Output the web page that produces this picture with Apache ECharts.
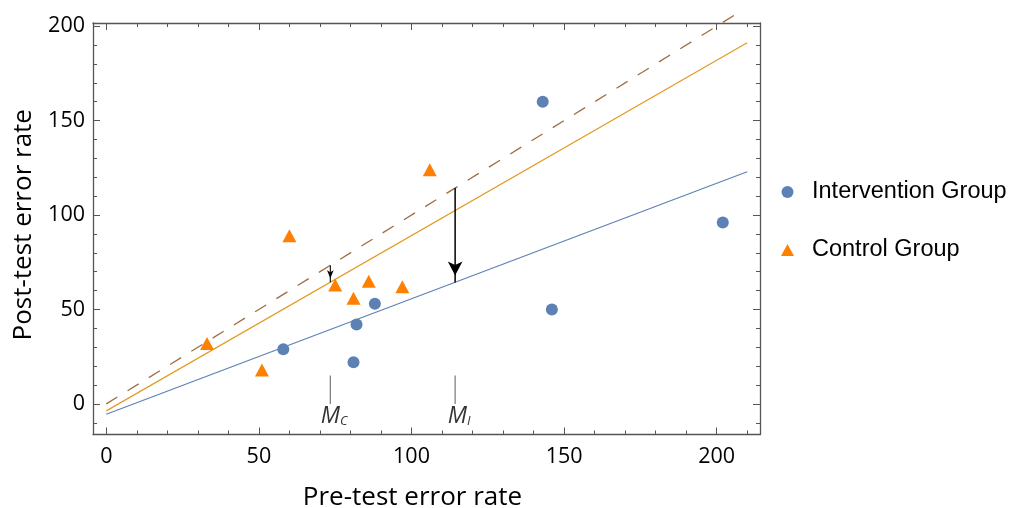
<!DOCTYPE html>
<html>
<head>
<meta charset="utf-8">
<script src="https://cdn.jsdelivr.net/npm/echarts@6/dist/echarts.min.js"></script>
<style>html,body{margin:0;padding:0;background:#fff}#c{width:1009px;height:508px}</style>
</head>
<body>
<div id="c"></div>
<script>
// ---- data ----
const interventionPts = [[58,29],[82,42],[88,53],[81,22],[143,160],[146,50],[202,96]];
const controlPts = [[33,32],[51,18],[60,89],[75,63],[81,56],[86,65],[97,62],[106,124]];
const identityLine = [[0,0],[206.5,206.5]];
const controlFit = [[0,-3.7],[210,191.2]];
const interventionFit = [[0,-5.5],[210,122.9]];
const meanC = 73.4, meanI = 114.3;
const arrowC = [[meanC,73.4],[meanC,64.4]];
const arrowI = [[meanI,114.3],[meanI,64.3]];
const markerLineC = [[meanC,0],[meanC,15]];
const markerLineI = [[meanI,0],[meanI,15]];
const xRange = [-4.36, 214.2];
const yRange = [-16.2, 201.7];
const xTitle = 'Pre-test error rate';
const yTitle = 'Post-test error rate';
const seriesNames = ['Intervention Group','Control Group'];

const chart = echarts.init(document.getElementById('c'));
const frameColor = '#555';
const tickFont = {fontFamily:'Open Sans', fontSize:21.5, color:'#000'};
const titleFont = {fontFamily:'Open Sans', fontSize:26, color:'#000'};

function xAx(pos, major){
  return {
    type:'value', position:pos, min:xRange[0], max:xRange[1],
    splitNumber: major?4:22,
    axisLine:{show:major, onZero:false, lineStyle:{color:frameColor,width:1.3}},
    axisTick:{show:true, inside:true, length:major?7:4, lineStyle:{color:frameColor,width:1}},
    axisLabel:{show:major && pos==='bottom', showMinLabel:false, showMaxLabel:false, margin:11, ...tickFont},
    splitLine:{show:false},
    name: (major && pos==='bottom') ? xTitle : '',
    nameLocation:'middle', nameGap:50,
    nameTextStyle:{...titleFont, padding:[0,28,0,0]}
  };
}
function yAx(pos, major){
  return {
    type:'value', position:pos, min:yRange[0], max:yRange[1],
    splitNumber: major?4:22,
    axisLine:{show:major, onZero:false, lineStyle:{color:frameColor,width:1.3}},
    axisTick:{show:true, inside:true, length:major?7:4, lineStyle:{color:frameColor,width:1}},
    axisLabel:{show:major && pos==='left', showMinLabel:false, showMaxLabel:false, margin:8, ...tickFont},
    splitLine:{show:false},
    name: (major && pos==='left') ? yTitle : '',
    nameLocation:'middle', nameGap:56, nameRotate:90,
    nameTextStyle:{...titleFont, padding:[0,0,0,8]}
  };
}

function arrowSeries(pts, headW, headH, lw){
  return {
    type:'line', xAxisIndex:0, yAxisIndex:0, silent:true, clip:false,
    lineStyle:{color:'#000', width:lw},
    data:[
      {value:pts[0], symbol:'none'},
      {value:pts[1], symbol:'arrow', symbolSize:[headW,headH], symbolRotate:180, symbolOffset:[0,-headH/2],
       itemStyle:{color:'#000'}}
    ],
    z:5
  };
}
function markerSeries(pts, sub){
  return [{
    type:'line', xAxisIndex:0, yAxisIndex:0, silent:true, symbol:'none',
    lineStyle:{color:'#777', width:1.2}, data:pts
  },{
    type:'scatter', xAxisIndex:0, yAxisIndex:0, silent:true, symbol:'rect', symbolSize:1,
    itemStyle:{color:'rgba(0,0,0,0)'},
    data:[[pts[0][0], -6.7]],
    label:{show:true, position:'inside', offset:[4,0],
      formatter:'{m|M}{s|'+sub+'}',
      rich:{
        m:{fontFamily:'Open Sans', fontStyle:'italic', fontSize:23, color:'#000'},
        s:{fontFamily:'Open Sans', fontStyle:'italic', fontSize:13, color:'#000', padding:[10,0,0,0]}
      }},
    z:6
  }];
}

const option = {
  backgroundColor:'#fff',
  animation:false,
  grid:{left:93, right:249, top:23, bottom:73.5, containLabel:false, outerBoundsMode:'none'},
  xAxis:[xAx('bottom',true), xAx('bottom',false), xAx('top',true), xAx('top',false)],
  yAxis:[yAx('left',true), yAx('left',false), yAx('right',true), yAx('right',false)],
  legend:{
    orient:'vertical', left:776, top:175, itemGap:34,
    itemWidth:13, itemHeight:12,
    data:seriesNames,
    textStyle:{fontFamily:'Liberation Sans', fontSize:23.5, color:'#000', lineHeight:24, padding:[0,0,0,13]}
  },
  series:[
    {type:'line', silent:true, symbol:'none', clip:false, data:identityLine,
      lineStyle:{color:'#9C6E44', width:1.3, type:[13,12]}},
    {type:'line', silent:true, symbol:'none', data:controlFit,
      lineStyle:{color:'#E19C24', width:1.2}},
    {type:'line', silent:true, symbol:'none', data:interventionFit,
      lineStyle:{color:'#5E81B5', width:1.2}},
    arrowSeries(arrowC, 5, 8, 1.1),
    arrowSeries(arrowI, 11, 14, 1.5),
    ...markerSeries(markerLineC,'C'),
    ...markerSeries(markerLineI,'I'),
    {name:seriesNames[0], type:'scatter', symbol:'circle', symbolSize:12, data:interventionPts,
      itemStyle:{color:'#5E81B5', opacity:1}, z:10},
    {name:seriesNames[1], type:'scatter', symbol:'triangle', symbolSize:[14,13], data:controlPts,
      itemStyle:{color:'#FF8000', opacity:1}, z:10}
  ]
};
chart.setOption(option);
</script>
</body>
</html>
